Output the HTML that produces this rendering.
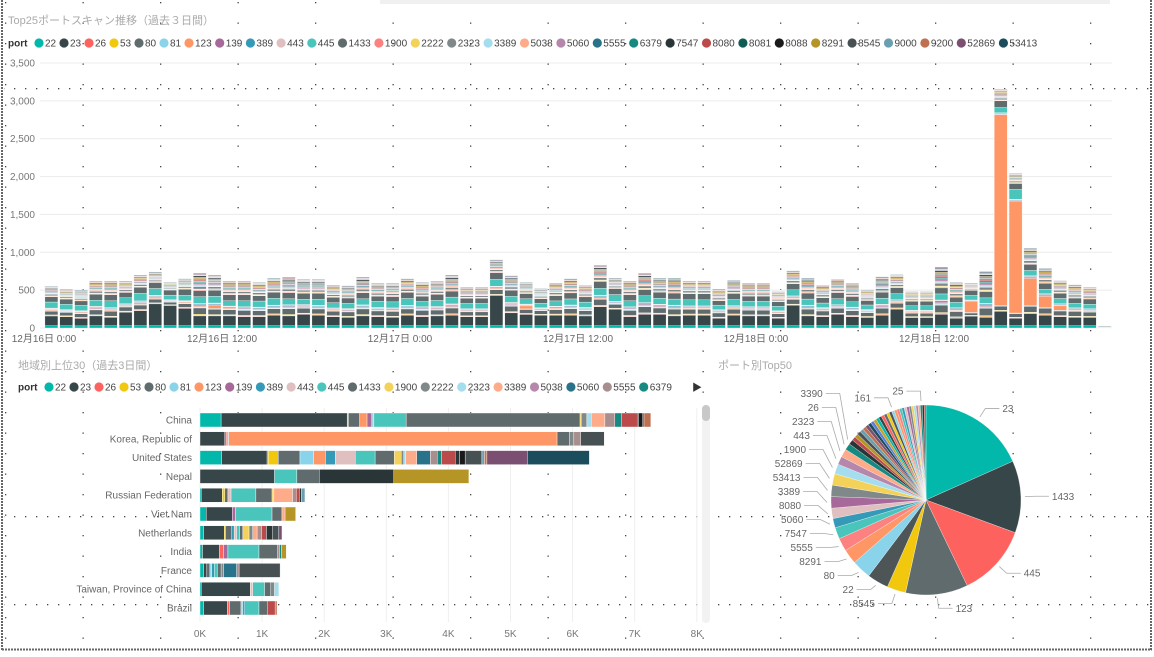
<!DOCTYPE html>
<html><head><meta charset="utf-8">
<style>
html,body{margin:0;padding:0;background:#fff;}
body{width:1154px;height:652px;overflow:hidden;font-family:"Liberation Sans","Noto Sans CJK JP",sans-serif;}
svg text{font-family:"Liberation Sans","Noto Sans CJK JP",sans-serif;}
</style></head>
<body>
<svg id="root" width="1154" height="652" viewBox="0 0 1154 652" xmlns="http://www.w3.org/2000/svg">
<defs>
<pattern id="dots" x="5" y="2" width="77.5" height="20.5" patternUnits="userSpaceOnUse"><rect x="0" y="0" width="1.3" height="1.3" fill="#444"/></pattern>
<pattern id="ddots" x="3" y="0" width="11" height="4" patternUnits="userSpaceOnUse"><rect x="0" y="0" width="1.3" height="1.3" fill="#444"/></pattern>
</defs>
<rect x="0" y="0" width="1154" height="652" fill="url(#dots)"/>
<rect x="4" y="88" width="1145" height="4" fill="url(#ddots)"/>
<rect x="4" y="516" width="1145" height="4" fill="url(#ddots)"/>
<rect x="4" y="604" width="1145" height="4" fill="url(#ddots)"/>
<rect x="380" y="0" width="730" height="4" fill="#f0f0f0"/>
<line x1="2" y1="0" x2="2" y2="650" stroke="#666" stroke-width="2" stroke-dasharray="2,1"/>
<line x1="2" y1="649.5" x2="1152" y2="649.5" stroke="#666" stroke-width="2" stroke-dasharray="2,1"/>
<line x1="1151" y1="0" x2="1151" y2="650" stroke="#666" stroke-width="2" stroke-dasharray="2,1"/>
<text x="8" y="24" font-size="11" fill="#aaa">Top25ポートスキャン推移（過去３日間）</text>
<text x="18" y="369" font-size="11" fill="#aaa">地域別上位30（過去3日間）</text>
<text x="718" y="369" font-size="11" fill="#aaa">ポート別Top50</text>
<g id="gtop"></g><g id="gbottom"></g><g id="gpie"></g>
<rect x="702" y="405" width="8" height="218" rx="4" fill="#f2f2f2"/>
<rect x="702" y="405" width="8" height="16" rx="4" fill="#c8c8c8"/>
<text x="692" y="391" font-size="10" fill="#333">▶</text>
</svg>
<script>
const hourLabels = ["12月16日 0:00","12月16日 12:00","12月17日 0:00","12月17日 12:00","12月18日 0:00","12月18日 12:00"];
const yTicks = [0,500,1000,1500,2000,2500,3000,3500];
const totals = [553,509,496,620,620,620,700,740,600,650,725,695,620,620,600,655,673,640,640,562,557,668,588,588,650,600,615,695,535,535,900,690,600,520,590,650,565,830,660,620,725,660,660,620,620,515,630,590,590,480,755,660,565,645,590,505,675,705,480,480,800,600,590,745,3155,2045,1050,790,625,570,540,25];
const p22 = [30,30,28,30,30,30,30,30,30,30,30,30,30,30,30,30,30,30,30,30,30,30,30,30,30,30,30,30,30,30,30,30,30,30,30,30,30,30,30,30,30,30,30,30,30,30,30,30,30,30,30,30,30,30,30,30,30,30,30,30,30,30,30,30,30,30,30,30,30,30,30,5];
const p23 = [130,120,100,130,110,180,200,290,270,230,130,130,130,120,120,140,130,150,140,120,110,130,120,110,140,120,130,140,120,120,400,170,150,140,140,140,130,250,220,120,150,150,130,140,140,100,140,130,130,100,270,130,120,150,120,110,140,220,110,110,150,100,130,110,190,100,160,140,120,110,110,0];
const p123 = [10,10,10,10,10,10,20,20,10,10,10,40,10,10,10,10,10,10,10,10,10,10,10,10,10,10,10,10,10,10,10,10,40,10,10,10,10,10,10,10,10,10,10,10,10,10,10,10,10,10,10,10,10,10,10,10,10,10,10,10,10,10,150,10,2520,1480,360,150,60,10,10,0];
const p445 = [80,70,70,80,90,80,100,90,60,70,90,90,70,80,80,90,80,70,80,70,70,80,80,80,90,70,80,90,70,70,90,80,70,60,70,80,70,90,90,80,90,80,80,80,80,60,80,70,70,60,80,80,60,80,70,60,80,80,60,60,80,70,60,70,70,130,70,60,70,60,60,0];
const p1433 = [70,70,60,80,80,70,80,80,70,80,80,80,80,80,70,80,80,80,80,70,70,80,70,70,80,70,80,80,70,70,90,80,70,60,70,80,70,90,80,80,80,80,80,80,80,60,80,70,70,60,80,80,70,80,70,60,80,80,60,60,80,70,70,80,90,80,80,80,70,70,70,10];
const restPorts = ["26","53","80","81","139","389","443","1900","2222","2323","3389","5038","5060","5555","6379","7547","8080","8081","8088","8291","8545","9000","9200","52869","53413"];
const restShare = [3,3,24,3,4,4,3,3,3,9,3,4,4,4,3,3,4,3,2,5,6,2,2,3,3];
const topPorts = ["22","23","26","53","80","81","123","139","389","443","445","1433","1900","2222","2323","3389","5038","5060","5555","6379","7547","8080","8081","8088","8291","8545","9000","9200","52869","53413"];
const topColors = ["#01B8AA","#374649","#FD625E","#F2C80F","#5F6B6D","#8AD4EB","#FE9666","#A66999","#3599B8","#DFBFBF","#4AC5BB","#5F6B6D","#FB8281","#F4D25A","#7F898A","#A4DDEE","#FDAB89","#B687AC","#28738A","#168980","#293537","#BB4A4A","#0E5C54","#1a1a1a","#B59525","#475052","#6A9FB0","#BD7150","#7B4F71","#1B4D5C"];

const countries = ["China","Korea, Republic of","United States","Nepal","Russian Federation","Viet Nam","Netherlands","India","France","Taiwan, Province of China","Brazil"];
const xTicksK = [0,1,2,3,4,5,6,7,8];
const b22 = [.34,0,.35,0,.02,.1,.06,.04,.06,.02,.06];
const b23 = [2.03,.4,.73,1.2,.34,.42,.33,.27,.05,.79,.38];
const b26 = [0,.03,.02,0,0,0,0,.07,0,0,.04];
const b53 = [.02,0,.16,0,.04,0,.02,0,0,0,0];
const b80 = [.18,0,.35,0,.05,0,.1,0,.05,0,.18];
const b81 = [0,.03,.22,0,0,0,0,0,.03,0,.03];
const b123 = [.12,5.29,.19,0,0,0,0,0,0,0,0];
const b139 = [.07,0,0,0,0,.05,0,.07,0,0,0];
const b389 = [.02,0,.16,0,0,0,.04,0,.04,0,.03];
const b443 = [.02,0,.32,0,.05,0,.04,0,0,.04,0];
const b445 = [.52,0,.32,.36,.4,.59,.05,.5,.05,.19,.23];
const b1433 = [2.8,.2,.31,.36,.26,.16,.05,.3,.06,.1,.14];
const b1900 = [.02,0,.11,0,.03,0,.1,0,0,0,0];
const b2222 = [.09,.07,.04,0,0,0,.06,0,.04,.06,0];
const b2323 = [.07,0,.03,0,0,0,0,0,0,.07,0];
const b3389 = [.22,0,.18,0,.3,.05,.07,0,0,0,0];
const b5060 = [0,0,.22,0,0,0,0,0,.21,0,0];
const b5555 = [.16,.11,.11,0,.06,0,.07,.03,.04,0,0];
const b6379 = [.11,0,.07,0,0,0,0,.03,0,0,0];
const b8081 = [.25,0,.22,0,.05,0,.08,0,0,0,.12];
const b8080 = [.02,0,.07,1.2,.03,0,.1,0,0,0,0];
const b8088 = [.07,0,.09,0,0,0,0,0,0,0,0];
const b8291 = [0,0,0,1.21,0,.17,0,.08,0,0,0];
const b8545 = [.02,.38,.27,0,0,0,.1,0,.66,0,0];
const b9000 = [0,0,.04,0,.06,0,0,0,0,0,0];
const b9200 = [.11,0,.04,0,0,0,0,0,0,0,.03];
const b52869 = [0,0,.65,0,0,0,.05,0,0,0,0];
const b53413 = [0,0,1.0,0,0,0,0,0,0,0,0];
const barSeries = [b22,b23,b26,b53,b80,b81,b123,b139,b389,b443,b445,b1433,b1900,b2222,b2323,b3389,b5060,b5555,b6379,b8081,b8080,b8088,b8291,b8545,b9000,b9200,b52869,b53413];
const barPorts = ["22","23","26","53","80","81","123","139","389","443","445","1433","1900","2222","2323","3389","5060","5555","6379","8081","8080","8088","8291","8545","9000","9200","52869","53413"];
const barColors = ["#01B8AA","#374649","#FD625E","#F2C80F","#5F6B6D","#8AD4EB","#FE9666","#A66999","#3599B8","#DFBFBF","#4AC5BB","#5F6B6D","#F4D25A","#7F898A","#A4DDEE","#FDAB89","#28738A","#A78F8F","#168980","#BB4A4A","#293537","#1a1a1a","#B59525","#475052","#6A9FB0","#BD7150","#7B4F71","#1B4D5C"];
const legend2Ports = ["22","23","26","53","80","81","123","139","389","443","445","1433","1900","2222","2323","3389","5038","5060","5555","6379"];
const legend2Colors = ["#01B8AA","#374649","#FD625E","#F2C80F","#5F6B6D","#8AD4EB","#FE9666","#A66999","#3599B8","#DFBFBF","#4AC5BB","#5F6B6D","#F4D25A","#7F898A","#A4DDEE","#FDAB89","#B687AC","#28738A","#A78F8F","#168980"];

const pieLabels = ["23","1433","445","123","8545","22","80","8291","5555","7547","5060","8080","3389","53413","52869","1900","443","2323","26","3390"];
const pieValues = [65.7,44,44,38,11.5,13,11.8,9,8,7,5.7,6.3,7,7,7,6,5,5,4,3];
const smallLabels = ["","","","","","","","","","","","","","","","161","","","","","","","","","","","","25","",""];
const smallValues = [2.4,2.3,2.2,2.2,2.1,2.0,2.0,1.9,1.9,1.8,1.8,1.8,1.7,1.7,1.7,1.6,1.6,1.6,1.5,1.5,1.5,1.5,1.4,1.4,1.4,1.3,1.3,1.2,1.2,1.1];
const pieColors = ["#01B8AA","#374649","#FD625E","#5F6B6D","#F2C80F","#4d5557","#8AD4EB","#FE9666","#FB8281","#4AC5BB","#3599B8","#DFBFBF","#A66999","#7F898A","#F4D25A","#A4DDEE","#B687AC","#FDAB89","#168980","#293537","#BB4A4A","#B59525","#475052","#6A9FB0","#BD7150","#7B4F71","#1B4D5C","#5a7fd6","#c9a227"];

const NS = "http://www.w3.org/2000/svg";
function mk(tag, attrs, parent){const e=document.createElementNS(NS,tag);for(const k in attrs)e.setAttribute(k,attrs[k]);parent.appendChild(e);return e;}
const gTop = document.getElementById('gtop'), gBottom = document.getElementById('gbottom'), gPie = document.getElementById('gpie');

function legend(parent, x0, y, ports, colors, name){
  const t = mk('text',{x:x0,y:y+3.5,'font-size':10,'font-weight':'bold',fill:'#333'},parent);
  t.textContent='port';
  
  
  let x = x0+31;
  ports.forEach((p,i)=>{
    const c = mk('circle',{cx:x,cy:y,r:4.6,fill:colors[i]},parent);
    
    
    const tx = mk('text',{x:x+6,y:y+3.5,'font-size':10,fill:'#444'},parent);
    tx.textContent=p;
    
    
    x += 13.6+5.7*p.length;
  });
}

const yTop = v => 328 - v*0.07571;
const nH = totals.length, X0 = 44, X1 = 1112, step = (X1-X0)/nH;
yTicks.forEach(v=>{
  const g = mk('line',{x1:40,x2:1112,y1:yTop(v),y2:yTop(v),stroke:'#ececec','stroke-width':1},gTop);
  
  
  const t = mk('text',{x:35,y:yTop(v)+3.5,'font-size':10,fill:'#777','text-anchor':'end'},gTop);
  t.textContent = v.toLocaleString('en-US');
  
  
});
hourLabels.forEach((l,i)=>{
  const t = mk('text',{x:X0+i*12*step,y:342,'font-size':10,fill:'#666','text-anchor':'middle'},gTop);
  t.textContent = l;
  
  
});
const shareSum = restShare.reduce((a,b)=>a+b,0);
for(let i=0;i<nH;i++){
  const rest = Math.max(0, totals[i]-p22[i]-p23[i]-p123[i]-p445[i]-p1433[i]);
  const vals = {"22":p22[i],"23":p23[i],"123":p123[i],"445":p445[i],"1433":p1433[i]};
  restPorts.forEach((p,k)=>{vals[p]=rest*restShare[k]/shareSum;});
  let acc = 0;
  const bx = X0 + i*step + 0.9;
  topPorts.forEach((p,k)=>{
    const v = vals[p]||0; if(v<=0) return;
    const y1 = yTop(acc), y2 = yTop(acc+v);
    const r = mk('rect',{x:bx,y:y2,width:step-1.8,height:Math.max(0.6,y1-y2),fill:topColors[k],stroke:'#fff','stroke-width':0.35},gTop);
    
    
    acc += v;
  });
}
legend(gTop, 8, 43, topPorts, topColors, 'top-legend');

const xBar = k => 200 + k*62.1;
const rowY = i => 420 + i*18.8;
xTicksK.forEach(k=>{
  const g = mk('line',{x1:xBar(k),x2:xBar(k),y1:408,y2:622,stroke:'#efefef','stroke-width':1},gBottom);
  
  
  const t = mk('text',{x:xBar(k),y:637,'font-size':10,fill:'#777','text-anchor':'middle'},gBottom);
  t.textContent = k+'K';
  
  
});
countries.forEach((c,i)=>{
  const t = mk('text',{x:192,y:rowY(i)+3.5,'font-size':10,fill:'#666','text-anchor':'end'},gBottom);
  t.textContent = c;
  
  
  let acc = 0;
  barSeries.forEach((s,k)=>{
    const v = s[i]; if(!v) return;
    const r = mk('rect',{x:xBar(acc),y:rowY(i)-7,width:xBar(acc+v)-xBar(acc),height:14,fill:barColors[k],stroke:'#fff','stroke-width':0.4},gBottom);
    
    
    acc += v;
  });
});
legend(gBottom, 18, 387, legend2Ports, legend2Colors, 'bar-legend');

const cx=926, cy=500, R=95;
const allVals = pieValues.concat(smallValues);
const allLabels = pieLabels.concat(smallLabels);
const pieTotal = allVals.reduce((a,b)=>a+b,0);
let a0 = 0;
const pt = (ang,r)=>[cx+r*Math.sin(ang), cy-r*Math.cos(ang)];
const labelInfo = [];
allVals.forEach((v,i)=>{
  const a1 = a0 + v/pieTotal*2*Math.PI;
  const [x0,y0]=pt(a0,R),[x1,y1]=pt(a1,R);
  const large = (a1-a0)>Math.PI?1:0;
  const p = mk('path',{d:`M${cx},${cy}L${x0},${y0}A${R},${R} 0 ${large} 1 ${x1},${y1}Z`,fill:pieColors[i%pieColors.length],stroke:'#fff','stroke-width':0.3},gPie);
  
  
  const mid=(a0+a1)/2;
  if(allLabels[i]){
    const [ex,ey]=pt(mid,R+4);
    const [lx,ly]=pt(mid,R+14);
    let side = 'l';
    if(mid<Math.PI) side='r'; else if(mid>Math.PI*1.85) side='t';
    labelInfo.push({side,mid,ex,ey,lx,ly,t:allLabels[i]});
  }
  a0=a1;
});
const lefts = labelInfo.filter(o=>o.side==='l').sort((a,b)=>b.ly-a.ly);
let lastY = 1e9;
lefts.forEach(o=>{ if(o.ly>lastY-14) o.ly=lastY-14; lastY=o.ly; });
labelInfo.forEach(o=>{
  let tx, anchor, lineEnd;
  if(o.side==='r'){ lineEnd=o.lx+14; tx=lineEnd+3; anchor='start'; }
  else { lineEnd=Math.min(o.lx,o.ex)-14; tx=lineEnd-3; anchor='end'; }
  const l = mk('polyline',{points:`${o.ex},${o.ey} ${o.lx},${o.ly} ${lineEnd},${o.ly}`,fill:'none',stroke:'#aaa','stroke-width':0.8},gPie);
  
  
  const t = mk('text',{x:tx,y:o.ly+3.5,'font-size':10,fill:'#666','text-anchor':anchor},gPie);
  t.textContent=o.t;
  
  
});
</script>
</body></html>
